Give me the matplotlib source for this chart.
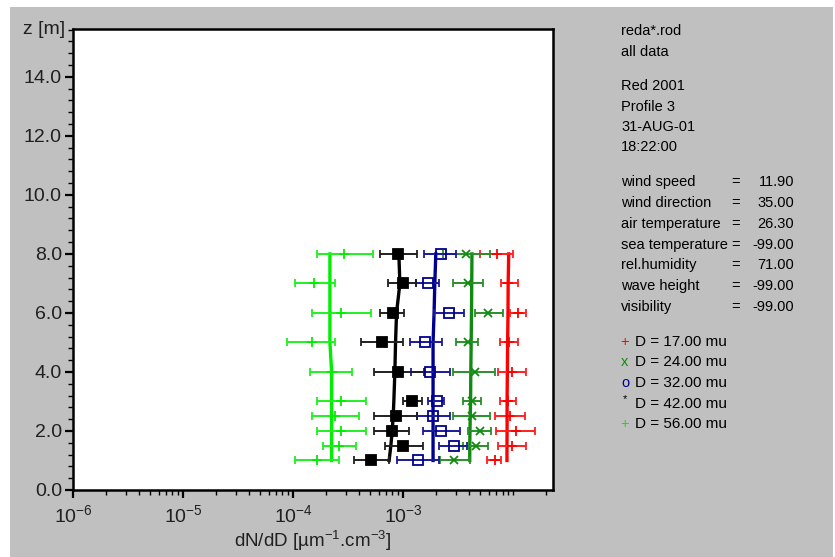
#Particle size profile plot (dN/dD versus height)

import numpy as np
import matplotlib
matplotlib.use('Agg')
import matplotlib.pyplot as plt
from matplotlib.patches import Rectangle
from matplotlib.ticker import FixedLocator, FixedFormatter, LogLocator, MultipleLocator, NullFormatter

#Heights of the measurement levels [m]
z = [8.0, 7.0, 6.0, 5.0, 4.0, 3.0, 2.5, 2.0, 1.5, 1.0]

#D = 17.00 mu (red)
x_17 = [7.09e-3, 8.97e-3, 1.106e-2, 9.16e-3, 9.83e-3, 8.97e-3, 9.30e-3, 1.069e-2, 9.83e-3, 6.80e-3]
lo_17 = [4.97e-3, 7.82e-3, 9.30e-3, 7.54e-3, 7.28e-3, 7.54e-3, 6.80e-3, 7.04e-3, 7.28e-3, 5.79e-3]
hi_17 = [9.96e-3, 1.106e-2, 1.318e-2, 1.106e-2, 1.318e-2, 1.069e-2, 1.272e-2, 1.568e-2, 1.318e-2, 7.82e-3]
fit_17 = [9.10e-3, 9.00e-3, 8.97e-3, 8.90e-3, 8.85e-3, 8.80e-3, 8.80e-3, 8.80e-3, 8.78e-3, 8.78e-3]

#D = 24.00 mu (dark green)
x_24 = [3.76e-3, 3.89e-3, 5.91e-3, 3.89e-3, 4.47e-3, 4.18e-3, 4.18e-3, 4.97e-3, 4.57e-3, 2.88e-3]
lo_24 = [2.29e-3, 2.84e-3, 4.47e-3, 3.05e-3, 2.84e-3, 3.50e-3, 2.84e-3, 3.89e-3, 3.50e-3, 2.15e-3]
hi_24 = [6.21e-3, 5.32e-3, 8.08e-3, 4.79e-3, 6.80e-3, 5.15e-3, 6.12e-3, 6.34e-3, 5.91e-3, 4.03e-3]
fit_24 = [4.22e-3, 4.20e-3, 4.18e-3, 4.15e-3, 4.12e-3, 4.10e-3, 4.07e-3, 4.05e-3, 4.03e-3, 4.03e-3]

#D = 32.00 mu (blue)
x_32 = [2.20e-3, 1.69e-3, 2.60e-3, 1.58e-3, 1.75e-3, 2.01e-3, 1.87e-3, 2.20e-3, 2.88e-3, 1.37e-3]
lo_32 = [1.54e-3, 1.30e-3, 1.90e-3, 1.15e-3, 1.19e-3, 1.69e-3, 1.34e-3, 1.50e-3, 2.12e-3, 8.82e-4]
hi_32 = [3.01e-3, 2.12e-3, 3.56e-3, 2.26e-3, 2.65e-3, 2.34e-3, 2.65e-3, 3.27e-3, 3.81e-3, 2.12e-3]
fit_32 = [1.98e-3, 1.94e-3, 1.91e-3, 1.87e-3, 1.87e-3, 1.87e-3, 1.87e-3, 1.87e-3, 1.87e-3, 1.87e-3]

#D = 42.00 mu (black)
x_42 = [9.01e-4, 1.00e-3, 8.01e-4, 6.45e-4, 9.01e-4, 1.21e-3, 8.59e-4, 7.85e-4, 1.00e-3, 5.09e-4]
lo_42 = [6.15e-4, 7.22e-4, 6.15e-4, 4.13e-4, 5.42e-4, 1.00e-3, 5.42e-4, 5.42e-4, 6.87e-4, 3.57e-4]
hi_42 = [1.34e-3, 1.32e-3, 1.02e-3, 1.00e-3, 1.54e-3, 1.47e-3, 1.34e-3, 1.13e-3, 1.50e-3, 7.46e-4]
fit_42 = [9.14e-4, 9.34e-4, 8.71e-4, 8.53e-4, 8.41e-4, 8.23e-4, 8.12e-4, 7.95e-4, 7.73e-4, 7.46e-4]

#D = 56.00 mu (light green)
x_56 = [2.91e-4, 1.56e-4, 2.70e-4, 1.48e-4, 2.24e-4, 2.72e-4, 2.40e-4, 2.72e-4, 2.63e-4, 1.64e-4]
lo_56 = [1.64e-4, 1.04e-4, 1.48e-4, 8.86e-5, 1.42e-4, 1.64e-4, 1.48e-4, 1.64e-4, 1.86e-4, 1.04e-4]
hi_56 = [5.28e-4, 2.40e-4, 5.06e-4, 2.40e-4, 3.40e-4, 4.59e-4, 3.99e-4, 4.59e-4, 3.72e-4, 2.63e-4]
fit_56 = [2.16e-4, 2.16e-4, 2.16e-4, 2.16e-4, 2.24e-4, 2.24e-4, 2.24e-4, 2.24e-4, 2.24e-4, 2.24e-4]

#Text for the info panel
info_head = ['reda*.rod', 'all data']
info_run = ['Red 2001', 'Profile 3', '31-AUG-01', '18:22:00']
met_names = ['wind speed', 'wind direction', 'air temperature', 'sea temperature',
             'rel.humidity', 'wave height', 'visibility']
met_values = ['11.90', '35.00', '26.30', '-99.00', '71.00', '-99.00', '-99.00']
legend_labels = ['D = 17.00 mu', 'D = 24.00 mu', 'D = 32.00 mu', 'D = 42.00 mu', 'D = 56.00 mu']

xtick_vals = [1e-6, 1e-5, 1e-4, 1e-3]
xtick_labels = ['$10^{-6}$', '$10^{-5}$', '$10^{-4}$', '$10^{-3}$']

plt.rcParams['font.family'] = ['Liberation Sans', 'DejaVu Sans']
plt.rcParams['mathtext.fontset'] = 'custom'
plt.rcParams['mathtext.rm'] = 'Liberation Sans'
plt.rcParams['mathtext.it'] = 'Liberation Sans:italic'
plt.rcParams['mathtext.default'] = 'regular'

W, H = 835.0, 557.0
def fx(px):
	return px/W
def fy(py):
	return 1 - py/H

fig = plt.figure(figsize=(8.35, 5.57), dpi=100)
fig.patch.set_facecolor('white')
fig.patches.append(Rectangle((fx(10), 0), (823)/W, (550)/H, transform=fig.transFigure,
                             facecolor='#c0c0c0', edgecolor='none', zorder=-10))

ax = fig.add_axes([fx(73), 67/H, 480/W, 461/H])
ax.set_facecolor('white')

#series: x, lo, hi, fit, marker, colour, bar colour, marker size, filled
series = [
	(x_17, lo_17, hi_17, fit_17, '+', '#ff0000', '#ff2020', 7, True),
	(x_24, lo_24, hi_24, fit_24, 'x', '#108a10', '#2a8f2a', 6, True),
	(x_32, lo_32, hi_32, fit_32, 's', '#000090', '#1a1a9a', 6.5, False),
	(x_42, lo_42, hi_42, fit_42, 's', '#000000', '#202020', 7.5, True),
	(x_56, lo_56, hi_56, fit_56, '+', '#00ee00', '#20f020', 7, True),
]

for xs, lo, hi, fit, mk, col, ecol, ms, filled in series:
	xs = np.array(xs)
	xerr = [xs - np.array(lo), np.array(hi) - xs]
	ax.errorbar(xs, z, xerr=xerr, fmt=mk, color=col, ecolor=ecol, elinewidth=1.4,
	            capsize=3, capthick=1.4, markersize=ms, markeredgewidth=1.3,
	            markerfacecolor=(col if filled else 'none'), markeredgecolor=col, zorder=3)
	ax.plot(fit, z, color=col, lw=2.4, zorder=2)

ax.set_xscale('log')
ax.set_xlim(1e-6, 2.3e-2)
ax.set_ylim(0, 15.62)

ax.xaxis.set_major_locator(FixedLocator(xtick_vals))
ax.xaxis.set_major_formatter(FixedFormatter(xtick_labels))
ax.xaxis.set_minor_locator(LogLocator(base=10, subs=np.arange(1, 10)))
ax.xaxis.set_minor_formatter(NullFormatter())
ax.yaxis.set_major_locator(MultipleLocator(2.0))
ax.yaxis.set_minor_locator(MultipleLocator(0.4))
ax.yaxis.set_major_formatter(plt.FormatStrFormatter('%.1f'))

ax.tick_params(which='major', direction='out', length=6, width=1.6, labelsize=14, pad=2, colors='black')
ax.tick_params(which='minor', direction='out', length=3.5, width=1.0)
ax.tick_params(axis='x', which='major', pad=4, labelcolor='#202020')
ax.tick_params(axis='y', labelcolor='#202020')
for sp in ax.spines.values():
	sp.set_linewidth(1.8)

#Axis titles
fig.text(fx(23), fy(30), 'z [m]', fontsize=14, ha='left', va='center', color='#202020')
fig.text(fx(313), fy(541), 'dN/dD [µm$^{-1}$.cm$^{-3}$]', fontsize=13.5, ha='center', va='center', color='#202020')

#Info panel
fs = 10.5
for i, t in enumerate(info_head):
	fig.text(fx(621), fy(31 + 20.7*i), t, fontsize=fs, ha='left', va='center')
for i, t in enumerate(info_run):
	fig.text(fx(621), fy(86.5 + 20.1*i), t, fontsize=fs, ha='left', va='center')
for i, (n, v) in enumerate(zip(met_names, met_values)):
	yy = fy(182.5 + 20.7*i)
	fig.text(fx(621), yy, n, fontsize=fs, ha='left', va='center')
	fig.text(fx(731), yy, '=', fontsize=fs, ha='left', va='center')
	fig.text(fx(794), yy, v, fontsize=fs, ha='right', va='center')

#Legend
leg_sym = ['+', 'x', 'o', '*', '+']
leg_col = ['#ff0000', '#108a10', '#000090', '#000000', '#00ee00']
for i, (s, c, t) in enumerate(zip(leg_sym, leg_col, legend_labels)):
	yy = fy(341.7 + 20.6*i)
	if s == '*':
		fig.text(fx(625), fy(337 + 20.6*i), s, fontsize=8, ha='center', va='center', color=c)
	else:
		fig.text(fx(625), yy, s, fontsize=fs, ha='center', va='center', color=c)
	fig.text(fx(635), yy, t, fontsize=fs+0.5, ha='left', va='center')

fig.savefig('out.png', dpi=100, facecolor=fig.get_facecolor())
